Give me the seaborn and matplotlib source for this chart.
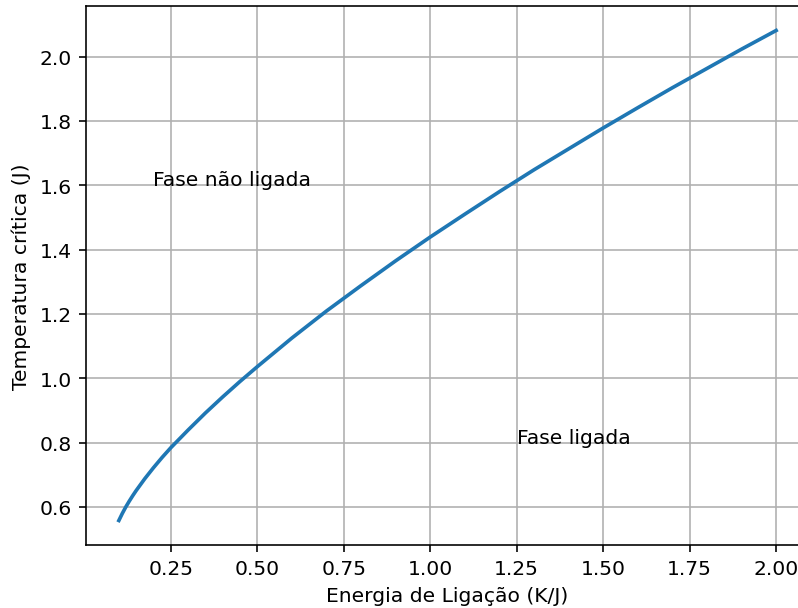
import matplotlib
matplotlib.use("Agg")
import matplotlib.pyplot as plt
import seaborn as sns
import pandas as pd

# Critical temperature vs. binding energy
energia = [0.10, 0.11, 0.12, 0.13, 0.14, 0.15, 0.175, 0.20, 0.225, 0.25,
           0.30, 0.35, 0.40, 0.45, 0.50, 0.60, 0.70, 0.80, 0.90, 1.00,
           1.10, 1.20, 1.30, 1.40, 1.50, 1.60, 1.70, 1.80, 1.90, 2.00]
temperatura = [0.558, 0.580, 0.600, 0.618, 0.635, 0.651, 0.688, 0.722, 0.754, 0.784,
               0.839, 0.892, 0.942, 0.990, 1.036, 1.125, 1.209, 1.288, 1.365, 1.439,
               1.510, 1.580, 1.648, 1.713, 1.778, 1.841, 1.903, 1.963, 2.023, 2.081]

df = pd.DataFrame({"K": energia, "Tc": temperatura})

DPI = 146
W, H = 798, 609
fig = plt.figure(figsize=(W / DPI, H / DPI), dpi=DPI)
ax = fig.add_axes([86 / W, 1 - 546 / H, (809 - 86) / W, (546 - 7) / H])

sns.lineplot(data=df, x="K", y="Tc", ax=ax, color="#1f77b4", linewidth=1.8)

ax.text(0.2, 1.6, "Fase não ligada")
ax.text(1.25, 0.8, "Fase ligada")

ax.set_xlabel("Energia de Ligação (K/J)")
ax.set_ylabel("Temperatura crítica (J)")
ax.grid(True)

fig.savefig("out.png", dpi=DPI)
